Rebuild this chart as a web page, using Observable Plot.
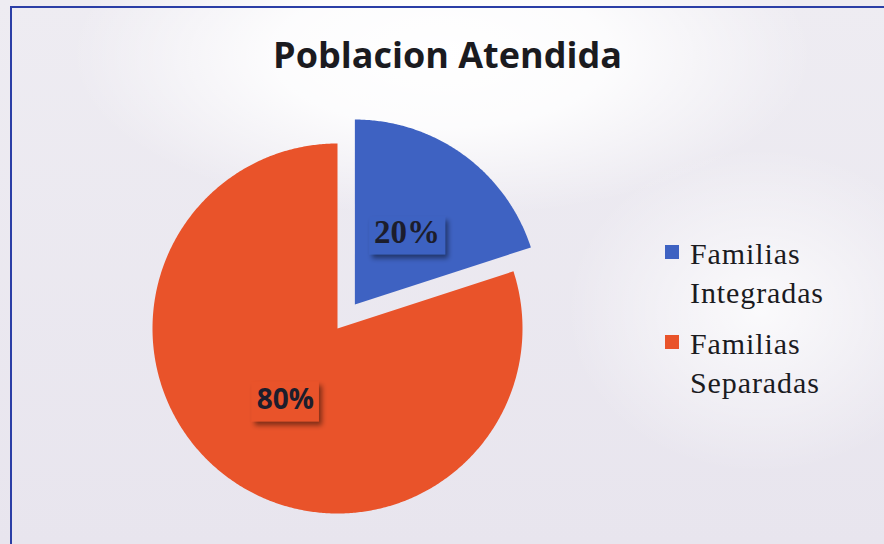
<!DOCTYPE html>
<html>
<head>
<meta charset="utf-8">
<script src="https://cdn.jsdelivr.net/npm/d3@7"></script>
<script src="https://cdn.jsdelivr.net/npm/@observablehq/plot@0.6"></script>
<style>
  html, body { margin: 0; padding: 0; width: 884px; height: 544px; overflow: hidden; }
  body {
    position: relative;
    background:
      radial-gradient(ellipse 42% 30% at 50% 10%, rgba(255,255,255,1) 0%, rgba(255,255,255,0.85) 45%, rgba(255,255,255,0) 100%),
      radial-gradient(ellipse 22% 30% at 86% 57%, rgba(255,255,255,0.8) 0%, rgba(255,255,255,0) 100%),
      linear-gradient(180deg, #eeecf2 0%, #e8e5ee 100%);
  }
  #frame { position: absolute; left: 10px; top: 6px; width: 900px; height: 560px;
           border-left: 2px solid #2b3ea6; border-top: 2px solid #2b3ea6; box-sizing: border-box; }
  #title { position: absolute; left: 0; top: 37px; width: 895px; text-align: center;
           font-family: "Open Sans", sans-serif; font-weight: 700; font-size: 36px; line-height: 1;
           color: #1b1b1f; }
  #chart { position: absolute; left: 0; top: 0; }
  #legend { position: absolute; left: 665px; top: 234px; font-family: "Liberation Serif", serif;
            font-size: 30px; line-height: 39px; letter-spacing: 0.9px; color: #1b1b1f; }
  .item { position: relative; padding-left: 25px; margin-bottom: 12px; }
  .sw { position: absolute; left: 0; top: 11px; width: 14px; height: 14px; }
</style>
</head>
<body>
<div id="frame"></div>
<div id="title">Poblacion Atendida</div>
<div id="chart"></div>
<div id="legend"></div>
<script>
// ---- data ----
const categories = ["Familias Integradas", "Familias Separadas"];
const values = [20, 80];
const percentLabels = ["20%", "80%"];
const legendLines = [["Familias", "Integradas"], ["Familias", "Separadas"]];

// ---- style ----
const colors = ["#3e62c2", "#e9532a"];
const explode = [0.16, 0];
const labelRadius = 0.48;
const cx = 337, cy = 328, R = 185;

// ---- geometry from data ----
const total = d3.sum(values);
let acc = 0;
const slices = categories.map((c, i) => {
  const a0 = acc / total * 2 * Math.PI;
  acc += values[i];
  const a1 = acc / total * 2 * Math.PI;
  return {c, i, a0, a1, mid: (a0 + a1) / 2};
});
const pts = [];
const labels = [];
slices.forEach(s => {
  const ox = explode[s.i] * Math.sin(s.mid), oy = explode[s.i] * Math.cos(s.mid);
  pts.push({c: s.c, x: ox, y: oy});
  const n = Math.max(2, Math.ceil((s.a1 - s.a0) / (Math.PI / 360)));
  for (let k = 0; k <= n; k++) {
    const a = s.a0 + (s.a1 - s.a0) * k / n;
    pts.push({c: s.c, x: ox + Math.sin(a), y: oy + Math.cos(a)});
  }
  labels.push({i: s.i, c: s.c, text: percentLabels[s.i],
               x: ox + labelRadius * Math.sin(s.mid), y: oy + labelRadius * Math.cos(s.mid)});
});

const plot = Plot.plot({
  width: 884, height: 544, margin: 0,
  x: {domain: [-1, 1], range: [cx - R, cx + R], axis: null},
  y: {domain: [-1, 1], range: [cy + R, cy - R], axis: null},
  color: {domain: categories, range: colors},
  style: {background: "transparent", overflow: "visible"},
  marks: [
    Plot.line(pts, {x: "x", y: "y", z: "c", fill: "c", stroke: "none", curve: "linear-closed"}),
    Plot.text(labels.filter(d => d.i === 0), {x: "x", y: "y", text: "text",
      fontFamily: "Liberation Serif", fontWeight: "bold", fontSize: 33, fill: "#1c1d2c"}),
    Plot.text(labels.filter(d => d.i === 1), {x: "x", y: "y", text: "text",
      fontFamily: "Open Sans", fontWeight: "bold", fontSize: 28, fill: "#1c1d2c"})
  ]
});
document.getElementById("chart").append(plot);

// label boxes with drop shadow
const svg = d3.select(plot);
const defs = svg.insert("defs", ":first-child");
const f = defs.append("filter").attr("id", "lblshadow").attr("x", "-30%").attr("y", "-30%").attr("width", "160%").attr("height", "170%");
f.append("feDropShadow").attr("dx", 3).attr("dy", 4).attr("stdDeviation", 2.5)
  .attr("flood-color", "#000").attr("flood-opacity", 0.45);
plot.querySelectorAll("text").forEach(t => {
  const idx = percentLabels.indexOf(t.textContent);
  if (idx < 0) return;
  const b = t.getBBox();
  const r = document.createElementNS("http://www.w3.org/2000/svg", "rect");
  r.setAttribute("x", b.x - 5);
  r.setAttribute("y", b.y + 2);
  r.setAttribute("width", b.width + 10);
  r.setAttribute("height", b.height + 2);
  r.setAttribute("fill", colors[idx]);
  r.setAttribute("filter", "url(#lblshadow)");
  if (t.getAttribute("transform")) r.setAttribute("transform", t.getAttribute("transform"));
  t.parentNode.insertBefore(r, t);
});

// legend
const legend = d3.select("#legend");
categories.forEach((c, i) => {
  const item = legend.append("div").attr("class", "item");
  item.append("div").attr("class", "sw").style("background", colors[i]);
  legendLines[i].forEach(line => item.append("div").text(line));
});
</script>
</body>
</html>
